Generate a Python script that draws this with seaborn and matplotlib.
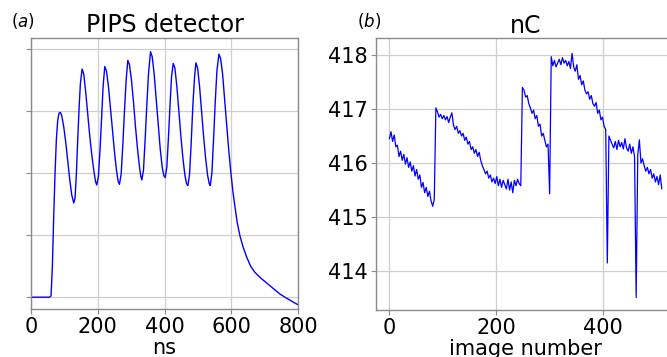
import numpy as np
import pandas as pd
import matplotlib
matplotlib.use("Agg")
import matplotlib.pyplot as plt
import seaborn as sns

# ---------------- data: panel (a) PIPS detector trace (arbitrary units) ----------------
pips_ns = [0, 20, 40, 55, 60, 64, 68, 72, 76, 80, 84, 88, 92, 98, 104, 110, 116, 122, 128,
           132, 136, 140, 144, 148, 153, 158, 164, 170, 176, 182, 188, 193, 197,
           202, 207, 212, 216, 221, 226, 232, 238, 244, 250, 256, 261, 265,
           270, 275, 280, 285, 290, 295, 301, 307, 313, 319, 325, 329, 332,
           337, 342, 347, 352, 358, 363, 369, 375, 381, 387, 393, 398, 402,
           407, 412, 417, 421, 426, 431, 437, 443, 449, 455, 461, 466, 470,
           475, 480, 485, 490, 494, 499, 505, 511, 517, 523, 529, 534, 537,
           542, 547, 552, 557, 563, 568, 574, 580, 586, 592, 599, 605, 611,
           618, 626, 636, 646, 658, 671, 688, 706, 726, 746, 770, 796, 800]
pips_signal = [0.0, 0.0, 0.0, 0.0, 0.02, 0.5, 1.3, 2.0, 2.55, 2.85, 2.97, 2.98, 2.93, 2.75,
               2.5, 2.2, 1.9, 1.65, 1.52,
               1.6, 2.0, 2.55, 3.05, 3.45, 3.68, 3.6, 3.3, 2.95, 2.6, 2.3, 2.05, 1.87, 1.81,
               1.95, 2.4, 2.95, 3.4, 3.72, 3.65, 3.4, 3.05, 2.7, 2.35, 2.05, 1.87, 1.82,
               1.98, 2.45, 3.0, 3.5, 3.82, 3.75, 3.5, 3.15, 2.75, 2.4, 2.1, 1.95, 1.89,
               2.05, 2.55, 3.1, 3.6, 3.96, 3.88, 3.6, 3.2, 2.8, 2.4, 2.1, 1.96, 1.93,
               2.1, 2.6, 3.15, 3.55, 3.77, 3.7, 3.4, 3.0, 2.6, 2.25, 1.97, 1.83, 1.80,
               1.98, 2.5, 3.1, 3.55, 3.78, 3.7, 3.4, 3.0, 2.6, 2.25, 1.97, 1.83, 1.80,
               2.0, 2.55, 3.15, 3.65, 3.92, 3.85, 3.6, 3.2, 2.8, 2.4, 2.0, 1.7, 1.46,
               1.2, 0.99, 0.8, 0.65, 0.5, 0.40, 0.31, 0.23, 0.14, 0.05, -0.03, -0.11, -0.12]

# ---------------- data: panel (b) charge per image (nC), every 3rd image ----------------
charge_nC = [
    # 0 .. 84
    416.45, 416.58, 416.40, 416.52, 416.30, 416.33, 416.12, 416.22, 416.05, 416.16,
    415.98, 416.10, 415.92, 416.02, 415.85, 415.95, 415.76, 415.88, 415.70, 415.78,
    415.55, 415.64, 415.45, 415.55, 415.38, 415.48, 415.30, 415.20, 415.32,
    # 87 .. 246
    417.02, 416.95, 416.85, 416.90, 416.82, 416.88, 416.80, 416.86, 416.75, 416.85,
    416.93, 416.70, 416.62, 416.68, 416.55, 416.60, 416.50, 416.55, 416.42, 416.48,
    416.35, 416.40, 416.25, 416.30, 416.18, 416.25, 416.12, 416.20, 416.05, 415.95,
    415.88, 415.80, 415.85, 415.72, 415.78, 415.65, 415.72, 415.62, 415.75, 415.58,
    415.70, 415.55, 415.68, 415.60, 415.52, 415.70, 415.50, 415.65, 415.45, 415.68,
    415.58, 415.70, 415.62, 415.58,
    # 249 .. 300
    417.40, 417.35, 417.22, 417.25, 417.10, 417.02, 416.92, 416.98, 416.82, 416.88,
    416.68, 416.72, 416.50, 416.55, 416.42, 416.30, 416.35, 415.43,
    # 303 .. 411
    417.97, 417.80, 417.90, 417.78, 417.85, 417.92, 417.82, 417.95, 417.85, 417.90,
    417.80, 417.88, 417.75, 418.03, 417.78, 417.70, 417.82, 417.55, 417.62, 417.45,
    417.52, 417.35, 417.28, 417.32, 417.18, 417.25, 417.10, 417.05, 417.12, 416.92,
    416.98, 416.80, 416.85, 416.68, 416.62, 414.15, 416.50,
    # 414 .. 510
    416.42, 416.35, 416.28, 416.40, 416.25, 416.42, 416.30, 416.38, 416.26, 416.45,
    416.28, 416.22, 416.35, 416.18, 416.30, 416.12, 413.51, 416.15, 416.43, 416.00,
    416.08, 415.95, 415.85, 415.92, 415.80, 415.88, 415.72, 415.80, 415.65, 415.75,
    415.60, 415.78, 415.52,
]
image_number = list(range(0, 3 * len(charge_nC), 3))

pips_df = pd.DataFrame({"ns": pips_ns, "signal": pips_signal})
charge_df = pd.DataFrame({"image": image_number, "nC": charge_nC})

# ---------------- styling ----------------
sns.set_theme(style="whitegrid")
plt.rcParams["font.family"] = ["DejaVu Sans"]
plt.rcParams["mathtext.fontset"] = "dejavusans"
plt.rcParams["text.color"] = "black"
plt.rcParams["axes.labelcolor"] = "black"
plt.rcParams["xtick.color"] = "black"
plt.rcParams["ytick.color"] = "black"

fig = plt.figure(figsize=(6.67, 3.57), dpi=100)
ax1 = fig.add_axes([0.0465, 0.1345, 0.4003, 0.759])
ax2 = fig.add_axes([0.5633, 0.1317, 0.4502, 0.7612])

line_color = "#0000ff"
grid_color = "#cfcfcf"
spine_color = "#8a8a8a"

sns.lineplot(data=pips_df, x="ns", y="signal", ax=ax1, color=line_color, linewidth=1.0)
sns.lineplot(data=charge_df, x="image", y="nC", ax=ax2, color=line_color, linewidth=0.9)

ax1.set_xlim(0, 800)
ax1.set_ylim(-0.19, 4.18)
ax1.set_xticks([0, 200, 400, 600, 800])
ax1.set_yticks([0, 1, 2, 3, 4])
ax1.set_yticklabels([])
ax1.set_xlabel("ns", fontsize=15, labelpad=1, color="black")
ax1.set_ylabel("")
ax1.set_title("PIPS detector", fontsize=17, pad=4, color="black")

ax2.set_xlim(-25.6, 536.6)
ax2.set_ylim(413.28, 418.31)
ax2.set_xticks([0, 200, 400])
ax2.set_yticks([414, 415, 416, 417, 418])
ax2.set_xlabel("image number", fontsize=15, labelpad=1, color="black")
ax2.set_ylabel("")
ax2.set_title("nC", fontsize=17, pad=4, color="black")

for ax in (ax1, ax2):
    ax.grid(True, color=grid_color, linewidth=0.9)
    for sp in ax.spines.values():
        sp.set_visible(True)
        sp.set_color(spine_color)
        sp.set_linewidth(1.0)
    ax.tick_params(axis="both", which="major", labelsize=15, length=3.5, width=0.8,
                   color=spine_color, labelcolor="black", pad=2, left=True, bottom=True)

fig.text(11 / 667, 1 - 21 / 357, r"$(a)$", fontsize=12, va="center", ha="left", color="black")
fig.text(357 / 667, 1 - 21 / 357, r"$(b)$", fontsize=12, va="center", ha="left", color="black")

fig.savefig("out.png", dpi=100)
